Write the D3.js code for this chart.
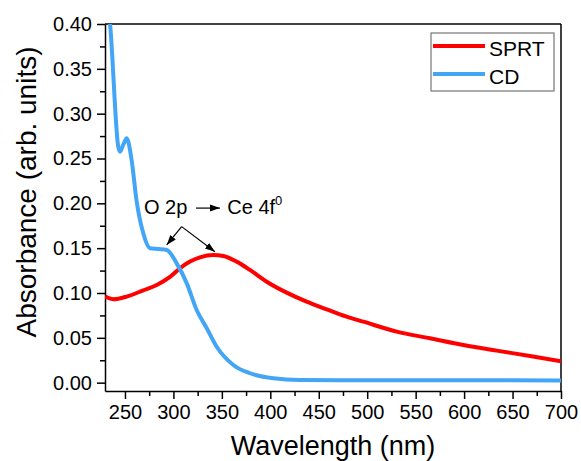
<!DOCTYPE html>
<html>
<head>
<meta charset="utf-8">
<script src="https://cdn.jsdelivr.net/npm/d3@7"></script>
<style>
  body { margin: 0; background: #fff; }
  text { font-family: "Liberation Sans", Arial, sans-serif; fill: #000; }
  .axis path, .axis line { stroke: #000; stroke-width: 1.5; }
</style>
</head>
<body>
<div class="chart"></div>
<script>
// values
var sprtWave = [229.4, 238, 251.8, 268.9, 282.8, 296.5, 306.8, 317.1, 327.4, 341.2, 351.5, 365.3, 379, 396.3, 416.9, 437.5, 458.2, 478.8, 496, 530.4, 564.8, 599.2, 633.6, 668, 700];
var sprtAbs  = [0.096, 0.093, 0.096, 0.103, 0.109, 0.118, 0.1276, 0.135, 0.1398, 0.1424, 0.1413, 0.135, 0.1257, 0.1126, 0.1004, 0.0903, 0.0818, 0.0736, 0.068, 0.0569, 0.0495, 0.042, 0.0357, 0.0298, 0.0238];

var cdWave = [231, 234.6, 243.1, 244.9, 248.5, 251.8, 256.9, 261.9, 268.9, 275.8, 284.1, 293.1, 303.4, 313.7, 324, 334.4, 344.7, 361.8, 379, 403.1, 430.6, 500, 600, 700];
var cdAbs  = [0.43, 0.40, 0.263, 0.2576, 0.266, 0.2725, 0.248, 0.2035, 0.1666, 0.1499, 0.149, 0.148, 0.133, 0.111, 0.081, 0.0607, 0.040, 0.0197, 0.0105, 0.0049, 0.003, 0.0027, 0.0026, 0.0025];

var xTicks = [250, 300, 350, 400, 450, 500, 550, 600, 650, 700];
var yTicks = [0, 0.05, 0.10, 0.15, 0.20, 0.25, 0.30, 0.35, 0.40];
var seriesNames = ["SPRT", "CD"];
var seriesColors = ["#ff0000", "#42a5f5"];

// annotation anchors in data units: label start, branch point, two arrow tips
var noteLabel = [269.6, 0.188];
var noteBranch = [308.5, 0.174];
var noteTips = [[293.1, 0.1536], [342.9, 0.146]];

var W = 581, H = 461,
    margin = {top: 24, right: 20, bottom: 70, left: 105},
    width = W - margin.left - margin.right,
    height = H - margin.top - margin.bottom;

var svg = d3.select(".chart").append("svg").attr("width", W).attr("height", H);

var defs = svg.append("defs");
defs.append("clipPath").attr("id", "clip")
  .append("rect").attr("width", width).attr("height", height);
defs.append("marker")
    .attr("id", "head")
    .attr("viewBox", "0 0 10 10")
    .attr("refX", 10).attr("refY", 5)
    .attr("markerWidth", 10).attr("markerHeight", 10)
    .attr("markerUnits", "userSpaceOnUse")
    .attr("orient", "auto")
  .append("path").attr("d", "M0,1.5L10,5L0,8.5Z").attr("fill", "#000");

var x = d3.scaleLinear().domain([229.4, 700]).range([0, width]),
    y = d3.scaleLinear().domain([-0.0093, 0.40]).range([height, 0]);

var g = svg.append("g").attr("transform", "translate(" + margin.left + "," + margin.top + ")");

// minor ticks
var xMinor = xTicks.map(function(d) { return d + 25; }).filter(function(d) { return d < 700; });
var yMinor = yTicks.map(function(d) { return d + 0.025; }).filter(function(d) { return d < 0.4; });

g.append("g").attr("class", "axis")
    .attr("transform", "translate(0," + height + ")")
    .call(d3.axisBottom(x).tickValues(xMinor).tickSize(5).tickFormat(""))
    .select(".domain").remove();
g.append("g").attr("class", "axis")
    .call(d3.axisLeft(y).tickValues(yMinor).tickSize(5).tickFormat(""))
    .select(".domain").remove();

var xAxis = g.append("g").attr("class", "axis")
    .attr("transform", "translate(0," + height + ")")
    .call(d3.axisBottom(x).tickValues(xTicks).tickSize(8).tickSizeOuter(0).tickPadding(6).tickFormat(d3.format("d")));
xAxis.selectAll("text").style("font-size", "20px");

var yAxis = g.append("g").attr("class", "axis")
    .call(d3.axisLeft(y).tickValues(yTicks).tickSize(8).tickSizeOuter(0).tickPadding(5).tickFormat(d3.format(".2f")));
yAxis.selectAll("text").style("font-size", "20px");

// top and right frame
g.append("line").attr("x1", 0).attr("x2", width).attr("y1", 0).attr("y2", 0)
  .attr("stroke", "#000").attr("stroke-width", 1.5);
g.append("line").attr("x1", width).attr("x2", width).attr("y1", 0).attr("y2", height)
  .attr("stroke", "#000").attr("stroke-width", 1.5);

var line = d3.line()
    .x(function(d) { return x(d[0]); })
    .y(function(d) { return y(d[1]); })
    .curve(d3.curveMonotoneX);

var plot = g.append("g").attr("clip-path", "url(#clip)");
plot.append("path")
    .datum(d3.zip(sprtWave, sprtAbs))
    .attr("fill", "none").attr("stroke", seriesColors[0]).attr("stroke-width", 4)
    .attr("d", line);
plot.append("path")
    .datum(d3.zip(cdWave, cdAbs))
    .attr("fill", "none").attr("stroke", seriesColors[1]).attr("stroke-width", 4)
    .attr("d", line);

// annotation
var note = g.append("text")
    .attr("x", x(noteLabel[0])).attr("y", y(noteLabel[1]))
    .style("font-size", "20px");
note.append("tspan").text("O 2p");
note.append("tspan").attr("dx", 40).text("Ce 4f");
note.append("tspan").attr("dy", -9).style("font-size", "13px").text("0");

var lblEnd = x(noteLabel[0]) + 52;
g.append("line")
    .attr("x1", lblEnd).attr("x2", lblEnd + 24)
    .attr("y1", y(noteLabel[1]) - 6).attr("y2", y(noteLabel[1]) - 6)
    .attr("stroke", "#000").attr("stroke-width", 1.2)
    .attr("marker-end", "url(#head)");

noteTips.forEach(function(t) {
  g.append("line")
    .attr("x1", x(noteBranch[0])).attr("y1", y(noteBranch[1]))
    .attr("x2", x(t[0])).attr("y2", y(t[1]))
    .attr("stroke", "#000").attr("stroke-width", 1.2)
    .attr("marker-end", "url(#head)");
});

// axis titles
g.append("text")
    .attr("x", width / 2).attr("y", height + 64)
    .attr("text-anchor", "middle")
    .style("font-size", "27px")
    .text("Wavelength (nm)");

g.append("text")
    .attr("transform", "translate(" + (36 - margin.left) + "," + (192 - margin.top) + ") rotate(-90)")
    .attr("text-anchor", "middle")
    .style("font-size", "28px")
    .text("Absorbance (arb. units)");

// legend
var legend = svg.append("g").attr("transform", "translate(431,33)");
legend.append("rect")
    .attr("width", 123).attr("height", 58)
    .attr("fill", "#fff").attr("stroke", "#777").attr("stroke-width", 1.2);
seriesNames.forEach(function(name, i) {
  var row = legend.append("g").attr("transform", "translate(0," + (13 + i * 28) + ")");
  row.append("line").attr("x1", 2).attr("x2", 54).attr("y1", 0).attr("y2", 0)
    .attr("stroke", seriesColors[i]).attr("stroke-width", 4);
  row.append("text").attr("x", 58).attr("y", 10)
    .style("font-size", "21px").text(name);
});
</script>
</body>
</html>
